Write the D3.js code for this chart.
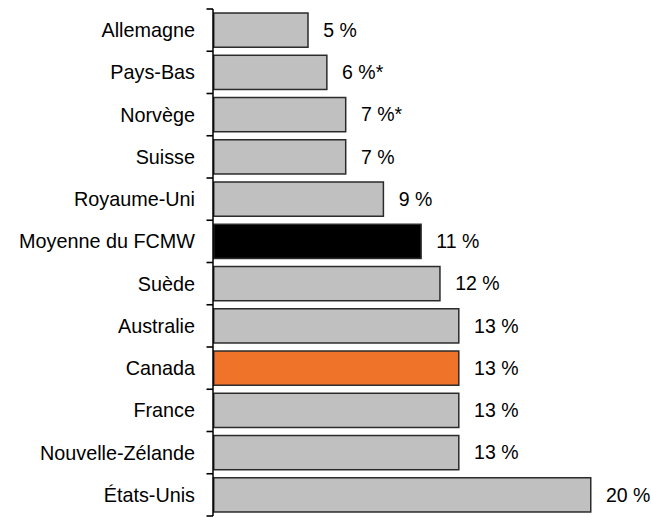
<!DOCTYPE html>
<html lang="fr">
<head>
    <meta charset="UTF-8">
    <title>Comparaison FCMW</title>
    <script src="https://d3js.org/d3.v7.min.js"></script>
    <style>
        body { margin: 0; background: #fff; }
        svg { display: block; font-family: "Liberation Sans", Arial, sans-serif; }
        .label { font-size: 19.8px; fill: #000; }
        .value { font-size: 19.5px; fill: #000; }
    </style>
</head>
<body>
    <svg width="651" height="517"></svg>
    <script>
        const countries = ["Allemagne", "Pays-Bas", "Norvège", "Suisse", "Royaume-Uni", "Moyenne du FCMW",
                           "Suède", "Australie", "Canada", "France", "Nouvelle-Zélande", "États-Unis"];
        const values = [5, 6, 7, 7, 9, 11, 12, 13, 13, 13, 13, 20];
        const valueLabels = ["5 %", "6 %*", "7 %*", "7 %", "9 %", "11 %", "12 %", "13 %", "13 %", "13 %", "13 %", "20 %"];
        const highlight = {"Moyenne du FCMW": "#000000", "Canada": "#f0732a"};

        const data = countries.map((c, i) => ({name: c, value: values[i], label: valueLabels[i]}));

        const svg = d3.select("svg");
        const axisX = 213;

        const x = d3.scaleLinear().domain([0, 20]).range([axisX, 590]);
        const y = d3.scaleBand().domain(countries).range([9, 516])
            .paddingInner(0.19).paddingOuter(0.095);

        const gap = y.step() * y.paddingInner() / 2;

        // bars
        svg.selectAll("rect.bar")
            .data(data)
            .enter().append("rect")
            .attr("class", "bar")
            .attr("x", x(0) + 0.75)
            .attr("y", d => y(d.name))
            .attr("width", d => x(d.value) - x(0))
            .attr("height", y.bandwidth())
            .attr("fill", d => highlight[d.name] || "#c0c0c0")
            .attr("stroke", "#2b2b2b")
            .attr("stroke-width", 1.5);

        // axis line and ticks at category boundaries
        const boundaries = countries.map(c => y(c) - gap).concat([y(countries[countries.length - 1]) + y.bandwidth() + gap]);
        svg.append("line")
            .attr("x1", axisX).attr("x2", axisX)
            .attr("y1", boundaries[0]).attr("y2", boundaries[boundaries.length - 1])
            .attr("stroke", "#000").attr("stroke-width", 1.5);
        svg.selectAll("line.tick")
            .data(boundaries)
            .enter().append("line")
            .attr("class", "tick")
            .attr("x1", axisX - 6.5).attr("x2", axisX)
            .attr("y1", d => d).attr("y2", d => d)
            .attr("stroke", "#000").attr("stroke-width", 1.6);

        // category labels
        svg.selectAll("text.label")
            .data(data)
            .enter().append("text")
            .attr("class", "label")
            .attr("x", axisX - 18)
            .attr("y", d => y(d.name) + y.bandwidth() / 2)
            .attr("dy", "0.35em")
            .attr("text-anchor", "end")
            .text(d => d.name);

        // value labels
        svg.selectAll("text.value")
            .data(data)
            .enter().append("text")
            .attr("class", "value")
            .attr("x", d => x(d.value) + 16)
            .attr("y", d => y(d.name) + y.bandwidth() / 2)
            .attr("dy", "0.35em")
            .text(d => d.label);
    </script>
</body>
</html>
